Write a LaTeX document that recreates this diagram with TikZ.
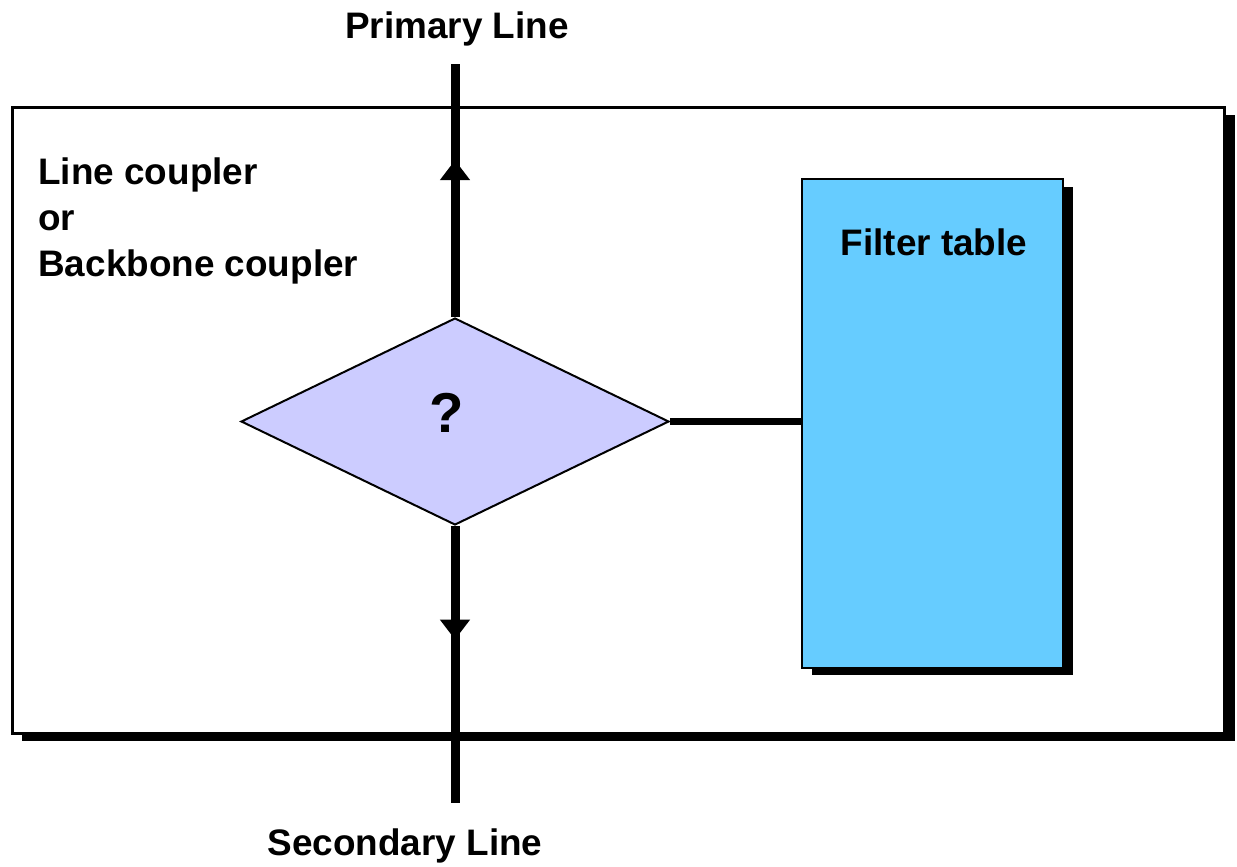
\documentclass[tikz,border=0pt]{standalone}
\usepackage{fontspec}
\setmainfont{Liberation Sans}
\usetikzlibrary{arrows.meta, decorations.markings, shapes.geometric, shadows}

\definecolor{gatefill}{HTML}{CCCCFF}
\definecolor{tablefill}{HTML}{66CCFF}

\begin{document}
\begin{tikzpicture}[x=0.02cm, y=-0.02cm, font=\fontsize{21}{26.2}\selectfont\bfseries,
  box/.style={draw, fill=white, line width=0.06cm, inner sep=0pt,
    drop shadow={shadow xshift=0.2cm, shadow yshift=-0.15cm, fill=black, opacity=1}},
  gate/.style={diamond, draw, fill=gatefill, line width=0.04cm, inner sep=0pt,
    minimum width=8.56cm, minimum height=4.14cm},
  wire/.style={line width=0.18cm},
  flowtip/.style={postaction={decorate}, decoration={markings,
    mark=at position #1 with {\arrow{Triangle[width=0.58cm, length=0.4cm]}}}}
]
\useasboundingbox (0,0) rectangle (1237,866);

% coupler housing
\node[box, minimum width=24.26cm, minimum height=12.54cm] (coupler) at (618.5,420.5) {};

% the decision
\node[gate] (gate) at (455,421.5) {};
\node[font=\fontsize{32}{36}\selectfont\bfseries, anchor=base] (ask) at (447,432) {?};

% filter table
\node[box, fill=tablefill, line width=0.05cm, minimum width=5.22cm, minimum height=9.78cm] (table) at (932.5,423.5) {};
\node[anchor=base] (tabletitle) at (934,255) {Filter table};

% lines
\coordinate (primary) at (455,64);
\coordinate (secondary) at (455,803);
\draw[wire, flowtip=0.62] (gate.north) -- (primary);
\draw[wire, flowtip=0.41] (gate.south) -- (secondary);
\draw[line width=0.14cm] (gate.east) -- (gate.east -| table.west);

% texts
\node[anchor=base] (primarylabel) at (457,38) {Primary Line};
\node[anchor=base] (secondarylabel) at (405,855) {Secondary Line};
\node[anchor=north west, align=left, inner sep=0pt] (role) at (38,157)
{Line coupler\\or\\Backbone coupler};

\end{tikzpicture}
\end{document}
